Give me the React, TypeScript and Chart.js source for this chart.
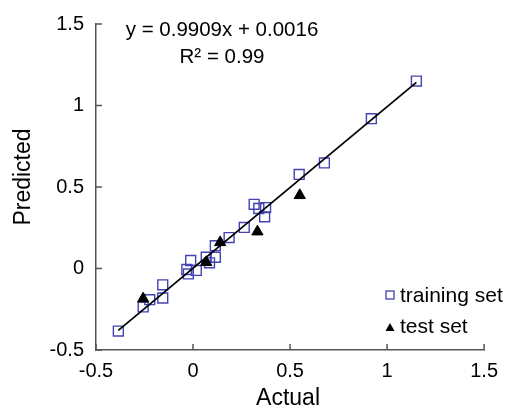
import React, { useEffect, useRef } from "react";
import { Chart, registerables } from "chart.js";

Chart.register(...registerables);

const trainActual = [-0.385, -0.257, -0.223, -0.156, -0.156, -0.032, -0.024, -0.012, 0.017, 0.068, 0.085, 0.115, 0.115, 0.186, 0.264, 0.315, 0.339, 0.369, 0.374, 0.547, 0.677, 0.919, 1.151];
const trainPredicted = [-0.384, -0.236, -0.191, -0.181, -0.1, -0.006, -0.033, 0.049, -0.012, 0.069, 0.035, 0.069, 0.14, 0.19, 0.252, 0.394, 0.368, 0.317, 0.374, 0.577, 0.648, 0.919, 1.15];
const testActual = [-0.257, 0.068, 0.14, 0.332, 0.55];
const testPredicted = [-0.185, 0.038, 0.16, 0.226, 0.449];
const slope = 0.9909;
const intercept = 0.0016;
const rSquared = "0.99";
const axisTicks = [-0.5, 0, 0.5, 1, 1.5];
const xTitle = "Actual";
const yTitle = "Predicted";
const legendLabels = ["training set", "test set"];

const BLUE = "#4343b4";
const AXIS = "#555555";
const FONT = "'Liberation Sans', Arial, sans-serif";

export default function App() {
  const ref = useRef<HTMLCanvasElement | null>(null);

  useEffect(() => {
    document.body.style.margin = "0";
    const canvas = ref.current;
    if (!canvas) return;

    const xmin = Math.min(...trainActual, ...testActual);
    const xmax = Math.max(...trainActual, ...testActual);

    const overlay = {
      id: "overlay",
      afterDraw(chart: any) {
        const ctx = chart.ctx;
        const xs = chart.scales.x;
        const ys = chart.scales.y;
        const area = chart.chartArea;
        ctx.save();
        // inward ticks
        ctx.strokeStyle = AXIS;
        ctx.lineWidth = 1.5;
        xs.ticks.forEach((t: any) => {
          const px = xs.getPixelForValue(t.value);
          ctx.beginPath();
          ctx.moveTo(px, area.bottom);
          ctx.lineTo(px, area.bottom - 6);
          ctx.stroke();
        });
        ys.ticks.forEach((t: any) => {
          const py = ys.getPixelForValue(t.value);
          ctx.beginPath();
          ctx.moveTo(area.left, py);
          ctx.lineTo(area.left + 6, py);
          ctx.stroke();
        });
        // equation
        ctx.fillStyle = "#000";
        ctx.textAlign = "center";
        ctx.textBaseline = "middle";
        ctx.font = `20.5px ${FONT}`;
        ctx.fillText(`y = ${slope}x + ${intercept.toFixed(4)}`, 222, 30);
        ctx.fillText(`R² = ${rSquared}`, 222, 57);
        // axis titles
        ctx.font = `23px ${FONT}`;
        ctx.fillText(xTitle, (area.left + area.right) / 2 - 2, 399);
        ctx.save();
        ctx.translate(24, 177);
        ctx.rotate(-Math.PI / 2);
        ctx.fillText(yTitle, 0, 0);
        ctx.restore();
        // legend
        ctx.font = `21px ${FONT}`;
        ctx.textAlign = "left";
        ctx.strokeStyle = BLUE;
        ctx.lineWidth = 1.3;
        ctx.strokeRect(386, 291, 8, 8);
        ctx.fillStyle = "#000";
        ctx.fillText(legendLabels[0], 400, 296);
        ctx.beginPath();
        ctx.moveTo(390, 323);
        ctx.lineTo(394.5, 331);
        ctx.lineTo(385.5, 331);
        ctx.closePath();
        ctx.fill();
        ctx.fillText(legendLabels[1], 400, 327);
        ctx.restore();
      },
    };

    const tickFont = { family: FONT, size: 20 };

    const chart = new Chart(canvas, {
      type: "scatter",
      data: {
        datasets: [
          {
            type: "line",
            label: "fit",
            data: [
              { x: xmin, y: slope * xmin + intercept },
              { x: xmax, y: slope * xmax + intercept },
            ],
            borderColor: "#000",
            borderWidth: 1.8,
            pointRadius: 0,
            fill: false,
            order: 0,
          } as any,
          {
            label: legendLabels[0],
            data: trainActual.map((x, i) => ({ x, y: trainPredicted[i] })),
            pointStyle: "rect",
            pointRadius: 7,
            borderColor: BLUE,
            backgroundColor: "rgba(0,0,0,0)",
            borderWidth: 1.4,
            order: 2,
          },
          {
            label: legendLabels[1],
            data: testActual.map((x, i) => ({ x, y: testPredicted[i] })),
            pointStyle: "triangle",
            pointRadius: 6.5,
            borderColor: "#000",
            backgroundColor: "#000",
            borderWidth: 1,
            order: 1,
          },
        ],
      },
      options: {
        responsive: false,
        animation: false,
        layout: { padding: { top: 22, right: 17, left: 0, bottom: 0 } },
        plugins: {
          legend: { display: false },
          tooltip: { enabled: false },
        },
        scales: {
          x: {
            type: "linear",
            min: axisTicks[0],
            max: axisTicks[axisTicks.length - 1],
            afterBuildTicks: (s: any) => {
              s.ticks = axisTicks.map((v) => ({ value: v }));
            },
            afterFit: (s: any) => {
              s.height = 60;
            },
            grid: { display: false, drawTicks: false, tickLength: 0 },
            border: { display: true, color: AXIS, width: 1.5 },
            ticks: {
              color: "#000",
              font: tickFont,
              padding: 9,
              maxRotation: 0,
              callback: (v: any) => String(v),
            },
          },
          y: {
            type: "linear",
            min: axisTicks[0],
            max: axisTicks[axisTicks.length - 1],
            afterBuildTicks: (s: any) => {
              s.ticks = axisTicks.map((v) => ({ value: v }));
            },
            afterFit: (s: any) => {
              s.width = 96;
            },
            grid: { display: false, drawTicks: false, tickLength: 0 },
            border: { display: true, color: AXIS, width: 1.5 },
            ticks: {
              color: "#000",
              font: tickFont,
              padding: 12,
              callback: (v: any) => String(v),
            },
          },
        },
      },
      plugins: [overlay],
    });

    return () => chart.destroy();
  }, []);

  return (
    <div style={{ width: 507, height: 410, background: "#fff" }}>
      <canvas ref={ref} width={507} height={410} />
    </div>
  );
}
